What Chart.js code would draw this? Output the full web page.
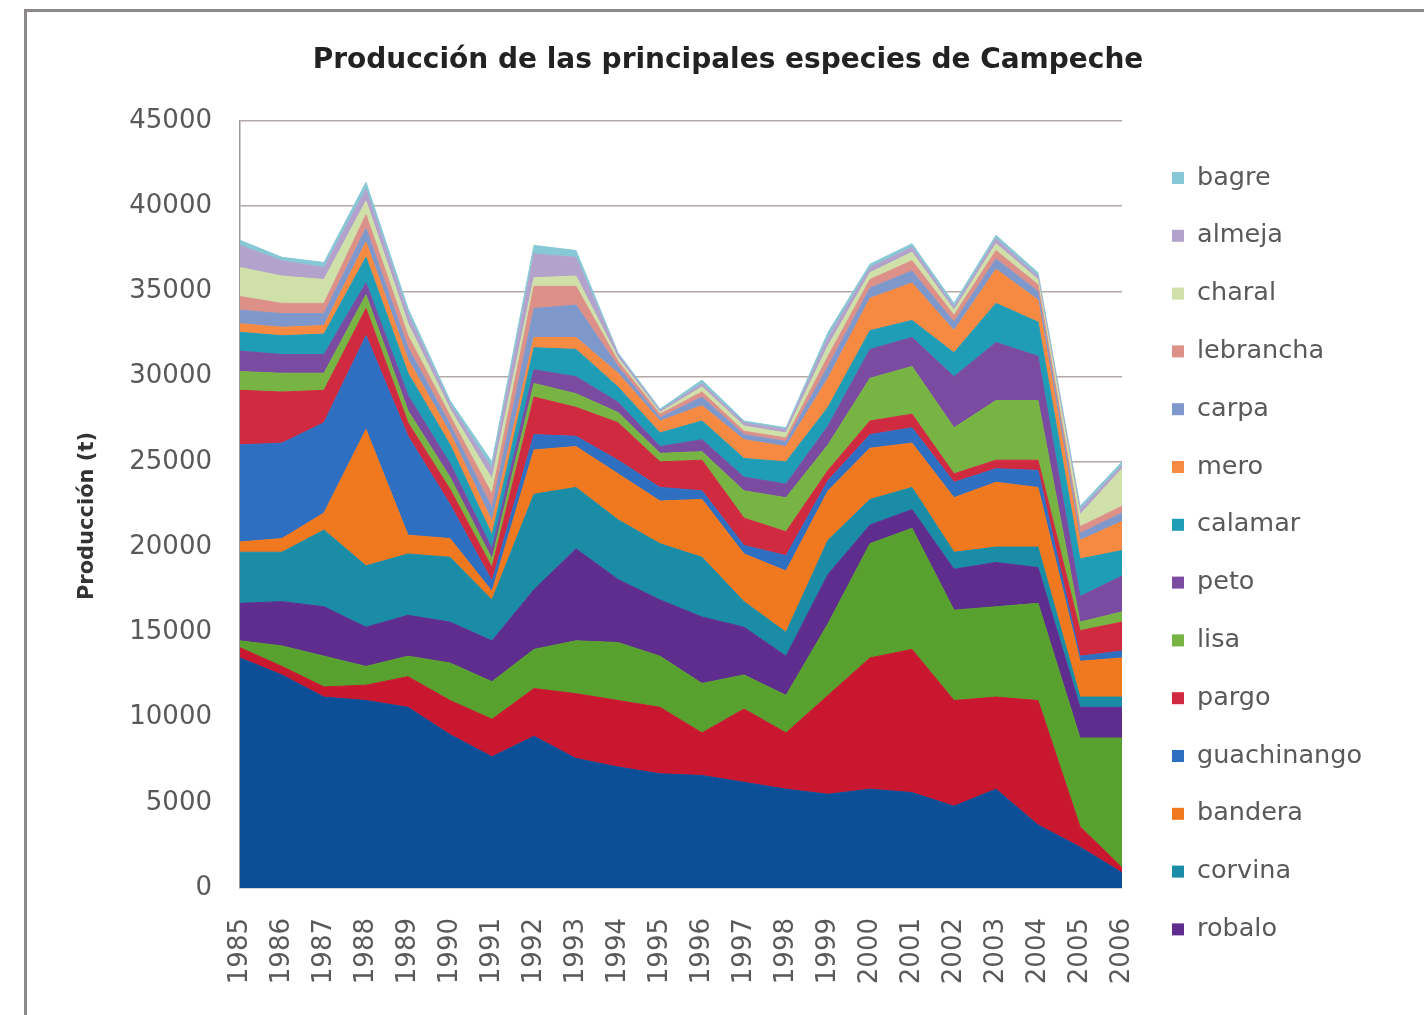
<!DOCTYPE html>
<html lang="es">
<head>
<meta charset="utf-8">
<title>Producción de las principales especies de Campeche</title>
<script src="https://cdn.jsdelivr.net/npm/chart.js@4.4.1/dist/chart.umd.min.js"></script>
<style>
  html, body { margin: 0; padding: 0; background: #ffffff; }
  #wrap { position: relative; width: 1424px; height: 1015px; }
  canvas { display: block; }
</style>
</head>
<body>
<div id="wrap"><canvas id="chart" width="1424" height="1015"></canvas></div>
<script>
// Years on the category axis
const years = ['1985','1986','1987','1988','1989','1990','1991','1992','1993','1994','1995',
               '1996','1997','1998','1999','2000','2001','2002','2003','2004','2005','2006'];

// Annual production per species (t), listed from the bottom of the stack upwards
const camaron     = [13500,12500,11200,11000,10600,9000,7700,8900,7600,7100,6700,6600,6200,5800,5500,5800,5600,4800,5800,3700,2400,900];
const pulpo       = [600,500,600,900,1800,2000,2200,2800,3800,3900,3900,2500,4300,3300,5800,7700,8400,6200,5400,7300,1200,300];
const jaiba       = [400,1200,1800,1100,1200,2200,2200,2300,3100,3400,3000,2900,2000,2200,4200,6700,7100,5300,5300,5700,5200,7600];
const robalo      = [2200,2600,2900,2300,2400,2400,2400,3500,5400,3700,3300,3900,2800,2300,2900,1100,1100,2400,2600,2100,1800,1800];
const corvina     = [3000,2900,4500,3600,3600,3800,2400,5600,3600,3500,3300,3500,1500,1400,2000,1500,1300,1000,900,1200,600,600];
const bandera     = [600,800,1000,8000,1100,1100,500,2600,2400,2700,2500,3400,2800,3600,2900,3000,2600,3200,3800,3500,2100,2300];
const guachinango = [5700,5600,5300,5500,5800,2000,600,900,600,800,800,500,500,900,600,800,900,900,800,1000,300,400];
const pargo       = [3200,3000,1900,1600,800,900,800,2200,1700,2200,1500,1800,1600,1400,600,800,800,500,500,600,1500,1700];
const lisa        = [1100,1100,1000,800,700,700,500,800,800,600,500,500,1600,2000,1500,2500,2800,2700,3500,3500,500,600];
const peto        = [1200,1100,1100,700,900,800,600,800,1000,600,400,700,800,800,1100,1700,1700,3000,3400,2600,1500,2100];
const calamar     = [1100,1100,1200,1500,1300,1100,800,1300,1600,900,800,1100,1100,1300,1100,1100,1000,1400,2300,2000,2200,1500];
const mero        = [500,500,500,900,800,700,800,600,700,800,700,900,1100,900,1700,1900,2200,1300,2000,1300,1100,1700];
const carpa       = [800,800,700,800,700,500,800,1700,1900,400,200,500,300,300,700,600,700,500,600,500,400,500];
const lebrancha   = [800,600,600,800,700,500,800,1300,1100,300,200,300,200,200,600,500,600,400,500,400,400,400];
const charal      = [1700,1600,1400,800,700,400,900,500,600,200,100,300,300,300,600,400,500,300,400,300,700,2200];
const almeja      = [1300,900,700,700,600,300,600,1400,1100,200,100,200,200,200,500,300,300,200,300,200,300,200];
const bagre       = [300,200,300,400,300,200,400,500,400,100,100,200,100,100,300,200,200,200,200,200,200,200];

// Axis ticks
const yMin = 0, yMax = 45000, yStep = 5000;

// Series names, values and fill colours (bottom of the stack first)
const seriesNames  = ['camarón','pulpo','jaiba','robalo','corvina','bandera','guachinango','pargo',
                      'lisa','peto','calamar','mero','carpa','lebrancha','charal','almeja','bagre'];
const seriesValues = [camaron,pulpo,jaiba,robalo,corvina,bandera,guachinango,pargo,
                      lisa,peto,calamar,mero,carpa,lebrancha,charal,almeja,bagre];
const seriesColors = ['#0d4f97','#c8172f','#58a12e','#5e2d8e','#1a8ca6','#f0781e','#2f6fc2','#d02a40',
                      '#78b443','#7a4ba0','#1f9db6','#f78a42','#7f98cc','#dc9088','#cfe0a8','#b3a3cc','#86c8d6'];

// Number of entries that fit in the legend column (top of the stack downwards)
const legendCount = 14;

const titleText = 'Producción de las principales especies de Campeche';
const yTitleText = 'Producción (t)';
const FONT = '"DejaVu Sans", "Liberation Sans", sans-serif';

const datasets = seriesNames.map((name, i) => ({
  label: name,
  data: seriesValues[i],
  backgroundColor: seriesColors[i],
  borderColor: seriesColors[i],
  borderWidth: 1,
  pointRadius: 0,
  pointHoverRadius: 0,
  tension: 0,
  fill: i === 0 ? 'origin' : '-1'
}));

// Frame, title, vertical axis title and legend column
const decorations = {
  id: 'decorations',
  beforeDraw(chart) {
    const ctx = chart.ctx;
    ctx.save();
    ctx.fillStyle = '#ffffff';
    ctx.fillRect(0, 0, chart.width, chart.height);
    ctx.strokeStyle = '#8c8888';
    ctx.lineWidth = 3;
    ctx.beginPath();
    ctx.moveTo(25.5, 1015);
    ctx.lineTo(25.5, 10.5);
    ctx.lineTo(1424, 10.5);
    ctx.stroke();
    ctx.restore();
  },
  afterDraw(chart) {
    const ctx = chart.ctx;
    ctx.save();
    // chart title
    ctx.fillStyle = '#222222';
    ctx.font = 'bold 28px ' + FONT;
    ctx.textAlign = 'center';
    ctx.textBaseline = 'middle';
    ctx.fillText(titleText, 728, 61);
    // vertical axis title
    ctx.save();
    ctx.translate(88, 516);
    ctx.rotate(-Math.PI / 2);
    ctx.font = 'bold 21px ' + FONT;
    ctx.fillStyle = '#333333';
    ctx.fillText(yTitleText, 0, 0);
    ctx.restore();
    // legend: top of the stack first
    ctx.font = '25.5px ' + FONT;
    ctx.textAlign = 'left';
    const n = chart.data.datasets.length;
    for (let k = 0; k < legendCount; k++) {
      const ds = chart.data.datasets[n - 1 - k];
      const y = 178 + k * 57.8;
      ctx.fillStyle = ds.backgroundColor;
      ctx.fillRect(1172, y - 6, 12, 12);
      ctx.fillStyle = '#595959';
      ctx.fillText(ds.label, 1197, y);
    }
    ctx.restore();
  }
};

new Chart(document.getElementById('chart'), {
  type: 'line',
  data: { labels: years, datasets },
  options: {
    responsive: false,
    animation: false,
    events: [],
    layout: { padding: { left: 0, top: 121, right: 302, bottom: 0 } },
    plugins: {
      legend: { display: false },
      title: { display: false },
      tooltip: { enabled: false },
      filler: { propagate: false }
    },
    scales: {
      x: {
        type: 'category',
        offset: false,
        grid: { display: false, drawTicks: false },
        border: { display: false },
        ticks: {
          autoSkip: false,
          minRotation: 90,
          maxRotation: 90,
          padding: 30,
          color: '#595959',
          font: { family: FONT, size: 26 }
        },
        afterFit(scale) { scale.height = 127; }
      },
      y: {
        stacked: true,
        min: yMin,
        max: yMax,
        grid: { color: '#b3a8a8', lineWidth: 1.5, drawTicks: false },
        border: { display: true, color: '#a09a9a', width: 1.5 },
        ticks: {
          stepSize: yStep,
          padding: 28,
          color: '#595959',
          font: { family: FONT, size: 26 },
          callback: (v) => String(v)
        },
        afterFit(scale) { scale.width = 240; }
      }
    }
  },
  plugins: [decorations]
});
</script>
</body>
</html>
